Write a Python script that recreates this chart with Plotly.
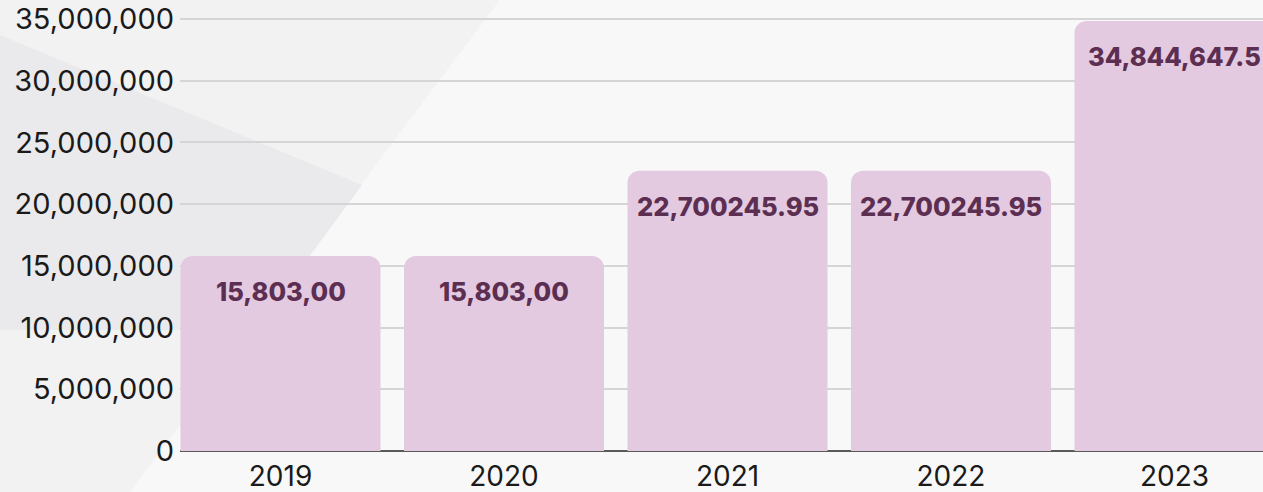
import plotly.graph_objects as go

years = ["2019", "2020", "2021", "2022", "2023"]
values = [15803000, 15803000, 22700245.95, 22700245.95, 34844647.5]
value_labels = ["15,803,00", "15,803,00", "22,700245.95", "22,700245.95", "34,844,647.5"]
y_ticks = [0, 5000000, 10000000, 15000000, 20000000, 25000000, 30000000, 35000000]

W, H = 1263, 492
L, R, T, B = 180, 0, 17, 41
PW, PH = W - L - R, H - T - B
Y_TOP = 35000000 * PH / 432

FONT = "Inter"
BAR = "#e4cae0"
LABEL = "#5c2f52"

def px(x, y):
    return (x - L) / PW, (H - B - y) / PH

def poly(points):
    pts = [px(x, y) for x, y in points]
    return "M " + " L ".join(f"{a:.4f},{b:.4f}" for a, b in pts) + " Z"

fig = go.Figure()
fig.add_trace(go.Bar(
    x=years, y=values,
    marker=dict(color=BAR, line=dict(width=0)),
    hoverinfo="skip",
))

for i, (v, lab) in enumerate(zip(values, value_labels)):
    fig.add_annotation(
        x=i, y=v, xref="x", yref="y", text=lab, showarrow=False,
        yanchor="top", yshift=-18,
        font=dict(family=FONT, size=25.5, color=LABEL, weight=800),
    )

shapes = [
    dict(type="path", path=poly([(0, 0), (500, 0), (130, 492), (0, 492)]),
         xref="paper", yref="paper", fillcolor="#f2f2f3", line=dict(width=0), layer="below"),
    dict(type="path", path=poly([(0, 35), (362, 185), (255, 330), (0, 330)]),
         xref="paper", yref="paper", fillcolor="#eaeaec", line=dict(width=0), layer="below"),
]

fig.update_layout(
    width=W, height=H,
    margin=dict(l=L, r=R, t=T, b=B, pad=0, autoexpand=False),
    paper_bgcolor="#f8f8f8",
    plot_bgcolor="rgba(0,0,0,0)",
    showlegend=False,
    bargap=0.105,
    barcornerradius=12,
    shapes=shapes,
    font=dict(family=FONT, size=28, color="#1a1a1a"),
    xaxis=dict(
        type="category", automargin=False,
        range=[-0.4497, 4.396], showgrid=False, showline=False, ticks="",
        tickfont=dict(family=FONT, size=28, color="#1a1a1a"),
        ticklabelstandoff=6,
    ),
    yaxis=dict(
        automargin=False,
        range=[0, Y_TOP], tickvals=y_ticks, tickformat=",d",
        showgrid=True, gridcolor="#d5d5d5", gridwidth=2,
        zeroline=True, zerolinecolor="#5a5a5a", zerolinewidth=1.5,
        showline=False, ticks="",
        tickfont=dict(family=FONT, size=29, color="#1a1a1a"),
        ticklabelstandoff=5,
    ),
)

fig.write_html(
    "out.html",
    config={"displayModeBar": False},
    post_script="document.body.style.margin='0';document.body.style.overflow='hidden';",
)
